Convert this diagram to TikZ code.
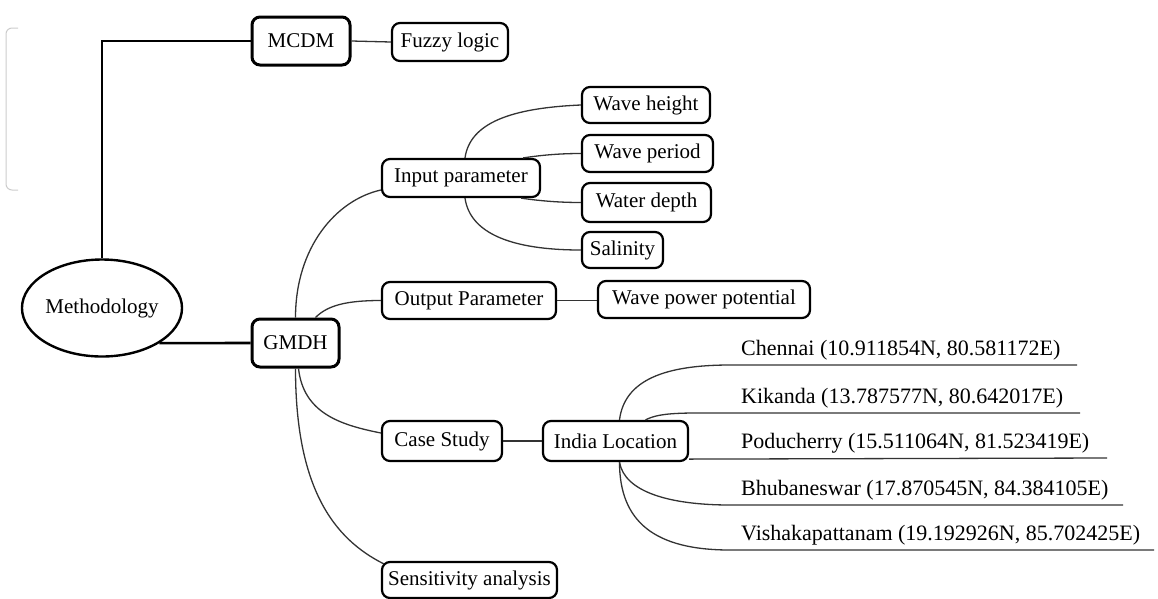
\documentclass[tikz,border=0pt]{standalone}
\usepackage{fontspec}
\setmainfont{Liberation Serif}
\usetikzlibrary{shapes.geometric}

\tikzset{
    box/.style={draw, fill=white, rounded corners=8pt, line width=2.2pt, inner sep=0pt,
        minimum height=38pt, font=\fontsize{21}{24}\selectfont},
    mainbox/.style={box, line width=3pt, minimum height=48pt},
    trunk/.style={line width=2.6pt},
    branch/.style={line width=1.3pt, black!80},
    loc/.style={anchor=base west, inner sep=0pt, font=\fontsize{22}{26}\selectfont}
}

\begin{document}
\begin{tikzpicture}[x=1pt, y=-1pt]
    \useasboundingbox (0,0) rectangle (1158,598);
    \draw[black!20, line width=1pt, rounded corners=6pt] (18,28) -- (6,28) -- (6,190) -- (18,190);

    \node[ellipse, draw, line width=2.4pt, inner sep=0pt, minimum width=160pt, minimum height=97pt,
        font=\fontsize{21}{24}\selectfont] at (102,308) (meth) {Methodology};
    \node[mainbox, minimum width=98pt] at (301,41) (mcdm) {MCDM};
    \node[box, minimum width=116pt] at (450,42) (fuzzy) {Fuzzy logic};
    \node[mainbox, minimum width=87pt] at (295.5,343) (gmdh) {GMDH};

    \node[box, minimum width=158pt] at (461,178) (input) {Input parameter};
    \node[box, minimum width=128pt, minimum height=36pt] at (646,105) (wh) {Wave height};
    \node[box, minimum width=131pt, minimum height=37pt] at (647.5,153.5) (wp) {Wave period};
    \node[box, minimum width=129pt, minimum height=39pt] at (646.5,202.5) (wd) {Water depth};
    \node[box, minimum width=81pt, minimum height=36pt] at (622.5,250) (sal) {Salinity};

    \node[box, minimum width=174pt, minimum height=37pt] at (469,300.5) (output) {Output Parameter};
    \node[box, minimum width=212pt, minimum height=37pt] at (704,299.5) (wpp) {Wave power potential};

    \node[box, minimum width=120pt, minimum height=40pt] at (442,441) (case) {Case Study};
    \node[box, minimum width=145pt, minimum height=40pt] at (615.5,441) (india) {India Location};
    \node[box, minimum width=175pt, minimum height=36pt] at (469.5,580) (sens) {Sensitivity analysis};

    \node[loc] at (741,355) (chen) {Chennai (10.911854N, 80.581172E)};
    \node[loc] at (741,403) (kik) {Kikanda (13.787577N, 80.642017E)};
    \node[loc] at (741,448) (podu) {Poducherry (15.511064N, 81.523419E)};
    \node[loc] at (741,495) (bhub) {Bhubaneswar (17.870545N, 84.384105E)};
    \node[loc] at (741,540) (vish) {Vishakapattanam (19.192926N, 85.702425E)};

    \coordinate (chen-s) at (730,365);  \coordinate (chen-e) at (1077,365);
    \coordinate (kik-s) at (730,413);   \coordinate (kik-e) at (1080,413);
    \coordinate (podu-e) at (1107,458);
    \coordinate (bhub-s) at (730,505);  \coordinate (bhub-e) at (1123,505);
    \coordinate (vish-s) at (730,550);  \coordinate (vish-e) at (1154,550);

    \draw[trunk] (meth.north) |- (mcdm.west);
    \draw[trunk] (meth.south east) -- (gmdh.west);
    \draw[branch] (mcdm.east) -- (fuzzy.west);

    \draw[branch] (gmdh.north) .. controls +(0,-70) and +(-45,10) .. ([yshift=-12pt]input.west);
    \draw[branch] ([xshift=20pt]gmdh.north) .. controls +(12,-12) and +(-35,0) .. (output.west);
    \draw[branch] ([xshift=3pt]gmdh.south) .. controls +(5,45) and +(-40,-8) .. ([yshift=8pt]case.west);
    \draw[branch] (gmdh.south) .. controls +(0,120) and +(-50,-25) .. ([xshift=3pt,yshift=-3pt]sens.north west);

    \draw[branch] ([xshift=4pt]input.north) .. controls +(5,-35) and +(-70,3) .. (wh.west);
    \draw[branch] ([xshift=-18pt]input.north east) .. controls +(20,-3) and +(-20,0) .. (wp.west);
    \draw[branch] ([xshift=-20pt]input.south east) .. controls +(20,3) and +(-20,0) .. (wd.west);
    \draw[branch] ([xshift=4pt]input.south) .. controls +(5,35) and +(-70,0) .. (sal.west);

    \draw[branch] (output.east) -- (output.east -| wpp.west);
    \draw[branch] (case) -- (india);

    \draw[branch] ([xshift=4pt]india.north) .. controls +(5,-40) and +(-65,0) .. (chen-s) -- (chen-e);
    \draw[branch] ([xshift=30pt]india.north) .. controls +(15,-8) and +(-45,0) .. (kik-s) -- (kik-e);
    \draw[branch] ([yshift=3pt]india.south east) -- (podu-e);
    \draw[branch] ([xshift=4pt]india.south) .. controls +(5,30) and +(-60,0) .. (bhub-s) -- (bhub-e);
    \draw[branch] ([xshift=4pt]india.south) .. controls +(0,60) and +(-75,0) .. (vish-s) -- (vish-e);
\end{tikzpicture}
\end{document}
